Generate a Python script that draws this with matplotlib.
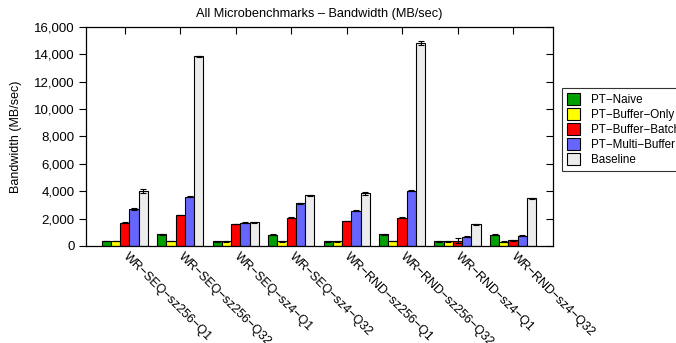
import numpy as np
import matplotlib
matplotlib.use('Agg')
import matplotlib.pyplot as plt

plt.rcParams['font.family'] = ['Liberation Sans', 'DejaVu Sans']

M = '\u2212'
categories = ['WR-SEQ-sz256-Q1', 'WR-SEQ-sz256-Q32', 'WR-SEQ-sz4-Q1', 'WR-SEQ-sz4-Q32',
              'WR-RND-sz256-Q1', 'WR-RND-sz256-Q32', 'WR-RND-sz4-Q1', 'WR-RND-sz4-Q32']
series = ['PT-Naive', 'PT-Buffer-Only', 'PT-Buffer-Batch', 'PT-Multi-Buffer', 'Baseline']

naive = [350, 850, 340, 830, 340, 850, 340, 830]
buf_only = [350, 360, 340, 340, 340, 380, 340, 320]
buf_batch = [1700, 2260, 1610, 2070, 1830, 2070, 370, 410]
multi_buf = [2680, 3600, 1700, 3120, 2580, 4040, 680, 750]
baseline = [4040, 13850, 1730, 3700, 3850, 14850, 1590, 3480]

naive_err = [20, 30, 20, 30, 20, 30, 20, 30]
buf_only_err = [20, 20, 20, 20, 20, 20, 20, 20]
buf_batch_err = [30, 30, 30, 30, 30, 30, 180, 40]
multi_buf_err = [60, 40, 50, 40, 50, 40, 30, 30]
baseline_err = [150, 60, 30, 60, 90, 130, 30, 60]

colors = ['#00a000', '#ffff00', '#ff0000', '#6666ff', '#ececec']

values = [naive, buf_only, buf_batch, multi_buf, baseline]
errors = [naive_err, buf_only_err, buf_batch_err, multi_buf_err, baseline_err]

fig = plt.figure(figsize=(6.76, 3.43), dpi=100)
ax = fig.add_axes([0.1272, 0.2828, 0.6908, 0.6385])

x = np.arange(len(categories))
w = 1 / 6
for i, (vals, errs) in enumerate(zip(values, errors)):
    pos = x + (i - 2) * w
    ax.bar(pos, vals, w, color=colors[i], edgecolor='black', linewidth=0.8,
           label=series[i].replace('-', M), zorder=2)
    ax.errorbar(pos, vals, yerr=errs, fmt='none', ecolor='black',
                elinewidth=0.8, capsize=2.5, capthick=0.8, zorder=3)

ax.set_xlim(-0.7, 7.72)
ax.set_ylim(0, 16000)
ax.set_yticks(np.arange(0, 16001, 2000))
ax.set_yticklabels([f'{v:,}' for v in range(0, 16001, 2000)], fontsize=9.5)
ax.set_xticks(x)
ax.set_xticklabels([c.replace('-', M) for c in categories], rotation=-45,
                   ha='left', va='center', rotation_mode='anchor', fontsize=9)
ax.tick_params(axis='y', direction='out', length=5, width=0.8, right=True, pad=3)
ax.tick_params(axis='x', direction='in', length=5, width=0.8, top=True, bottom=False, pad=6)
ax.tick_params(axis='y', which='both', labelright=False)
for s in ax.spines.values():
    s.set_linewidth(0.9)

# right-side ticks point inward like gnuplot's mirrored ticks
for t in ax.yaxis.get_major_ticks():
    t.tick2line.set_marker(matplotlib.lines.TICKLEFT)

ax.set_title('All Microbenchmarks ' + '\u2013' + ' Bandwidth (MB/sec)', fontsize=9.2, pad=7)
ax.set_ylabel('Bandwidth (MB/sec)', fontsize=9, labelpad=9)

leg = ax.legend(loc='upper left', bbox_to_anchor=(1.02, 0.72), fontsize=8.4,
                frameon=True, fancybox=False, edgecolor='black', handlelength=1.1,
                handleheight=1.15, handletextpad=0.95, labelspacing=0.2,
                borderpad=0.4, borderaxespad=0)
leg.get_frame().set_linewidth(0.8)

fig.savefig('out.png', dpi=100)
